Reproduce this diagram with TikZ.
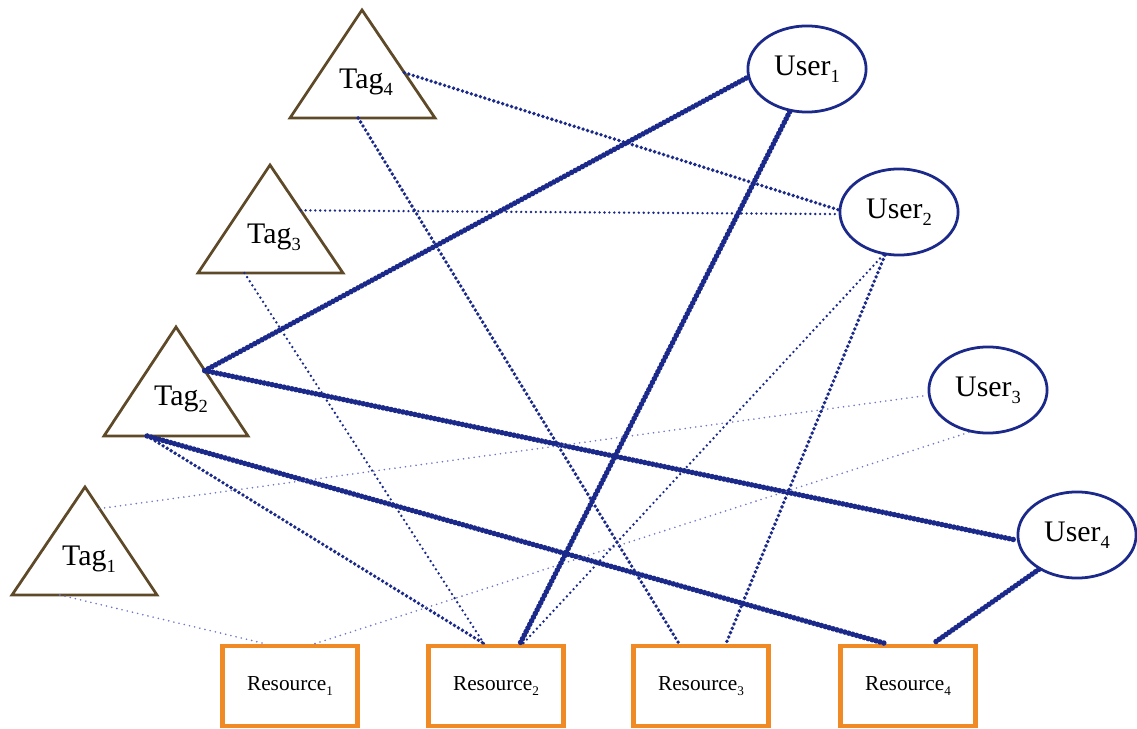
\documentclass[tikz,border=0pt]{standalone}
\usepackage{fontspec}
\setmainfont{Liberation Serif}
\usepackage{xcolor}
\usepackage{tikz}
\usetikzlibrary{positioning,calc,shapes.geometric}

\definecolor{linkblue}{HTML}{1B2A8A}
\definecolor{faintblue}{HTML}{6F78C8}
\definecolor{tagbrown}{HTML}{5E4A28}
\definecolor{resorange}{HTML}{F08A24}
\newcommand{\lowsub}[1]{\raisebox{-0.5ex}{\scalebox{0.62}{#1}}}

\begin{document}
\begin{tikzpicture}[x=0.0165cm, y=-0.0165cm,
            tagtri/.style={draw=tagbrown, line width=1.3pt, fill=white},
            tag/.style={font=\fontsize{14}{16}\selectfont, inner sep=0pt},
            user/.style={draw=linkblue, ellipse, line width=1.3pt, fill=white, minimum width=1.95cm,
                 minimum height=1.42cm, inner sep=0pt, font=\fontsize{14}{16}\selectfont},
            res/.style={draw=resorange, rectangle, line width=2.2pt, fill=white, minimum width=2.23cm,
                 minimum height=1.32cm, align=center, font=\fontsize{10}{12}\selectfont},
            heavylink/.style={draw=linkblue, line width=2.6pt, line cap=round, dash pattern=on 0pt off 1.9pt},
            midlink/.style={draw=linkblue, line width=1.8pt, line cap=round, dash pattern=on 0pt off 2.2pt},
            thinlink/.style={draw=linkblue, line width=1.25pt, line cap=round, dash pattern=on 0pt off 2.3pt},
            faintlink/.style={draw=faintblue, line width=0.85pt, line cap=round, dash pattern=on 0pt off 2.5pt}
            ]
            \useasboundingbox (0,0) rectangle (1137,729);

            % Tags (triangles drawn by hand)
            \draw[tagtri] (362,10) coordinate (t4a) -- (290,118) coordinate (t4l) -- (435,118) coordinate (t4r) -- cycle;
            \draw[tagtri] (270,165) coordinate (t3a) -- (198,273) coordinate (t3l) -- (343,273) coordinate (t3r) -- cycle;
            \draw[tagtri] (176,327) coordinate (t2a) -- (104,436) coordinate (t2l) -- (248,436) coordinate (t2r) -- cycle;
            \draw[tagtri] (85,487) coordinate (t1a) -- (12,595) coordinate (t1l) -- (157,595) coordinate (t1r) -- cycle;
            \node[tag] (tag4) at (366,82) {Tag\lowsub{4}};
            \node[tag] (tag3) at (274,237) {Tag\lowsub{3}};
            \node[tag] (tag2) at (181,399) {Tag\lowsub{2}};
            \node[tag] (tag1) at (89,559) {Tag\lowsub{1}};

            % Users and resources with manual coordinates
            \node[user] (user1) at (807,69) {User\lowsub{1}};
            \node[user] (user2) at (899,212) {User\lowsub{2}};
            \node[user] (user3) at (988,390) {User\lowsub{3}};
            \node[user] (user4) at (1077,535) {User\lowsub{4}};
            \node[res] (res1) at (290,686) {Resource\lowsub{1}};
            \node[res] (res2) at (496,686) {Resource\lowsub{2}};
            \node[res] (res3) at (701,686) {Resource\lowsub{3}};
            \node[res] (res4) at (908,686) {Resource\lowsub{4}};

            % Links
            \draw[midlink] ($(t4a)!0.58!(t4r)$) -- (user2.178);
            \draw[midlink] ($(t4l)!0.47!(t4r)$) -- ($(res3.north)+(-22,0)$);
            \draw[thinlink] ($(t3a)!0.42!(t3r)$) -- (user2.182);
            \draw[thinlink] ($(t3l)!0.32!(t3r)$) -- ($(res2.north)+(-12,0)$);
            \draw[heavylink] ($(t2a)!0.4!(t2r)$) -- (user1.188);
            \draw[heavylink] ($(t2a)!0.4!(t2r)$) -- (user4.185);
            \draw[midlink] ($(t2l)!0.3!(t2r)$) -- ($(res2.north)+(-12,0)$);
            \draw[heavylink] ($(t2l)!0.3!(t2r)$) -- ($(res4.north)+(-22,0)$);
            \draw[faintlink] ($(t1a)!0.2!(t1r)$) -- (user3.185);
            \draw[faintlink] ($(t1l)!0.33!(t1r)$) -- ($(res1.north)+(-25,0)$);
            \draw[faintlink] ($(res1.north)+(25,0)$) -- (user3.246);
            \draw[heavylink] (user1.248) -- ($(res2.north)+(24,0)$);
            \draw[thinlink] (user2.250) -- ($(res2.north)+(27,0)$);
            \draw[midlink] (user2.252) -- ($(res3.north)+(25,0)$);
            \draw[heavylink] (user4.222) -- ($(res4.north)+(25,0)$);
        \end{tikzpicture}
\end{document}
